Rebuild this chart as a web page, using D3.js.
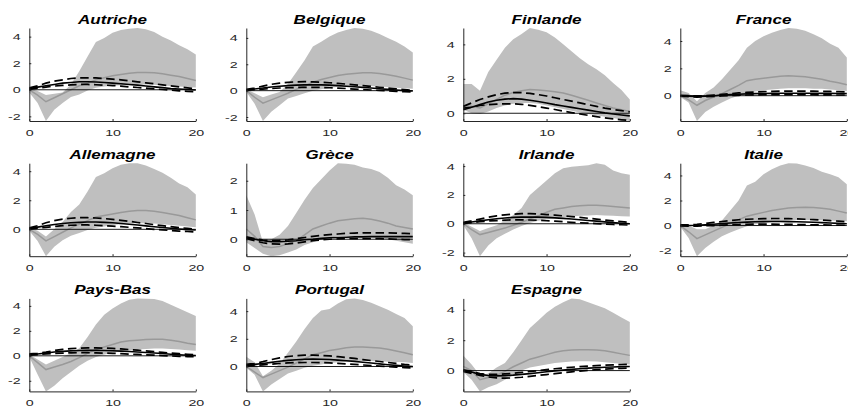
<!DOCTYPE html>
<html><head><meta charset="utf-8">
<script src="https://cdn.jsdelivr.net/npm/d3@7"></script>
<style>body{margin:0;background:#fff}svg{display:block}</style>
</head><body><svg id="c" width="848" height="408"></svg>
<script>
const countries = ["Autriche","Belgique","Finlande","France","Allemagne","Grèce","Irlande","Italie","Pays-Bas","Portugal","Espagne"];
const steps = [0,1,2,3,4,5,6,7,8,9,10,11,12,13,14,15,16,17,18,19,20];
const xTicks = [0,10,20];
const yTicks = [[-2,0,2,4],[-2,0,2,4],[0,2,4],[0,2,4],[0,2,4],[0,1,2],[-2,0,2,4],[-2,0,2,4],[-2,0,2,4],[0,2,4],[0,2,4]];

const bandHigh = [
 [0.1,-0.1,-0.4,-0.3,-0.2,0.4,1.4,2.5,3.6,3.9,4.3,4.5,4.6,4.65,4.55,4.35,4.0,3.7,3.35,3.05,2.65],
 [0.1,-0.2,-0.5,-0.3,-0.1,0.5,1.4,2.3,3.35,3.7,4.1,4.4,4.6,4.75,4.7,4.55,4.3,4.0,3.7,3.35,2.9],
 [1.7,1.7,1.3,2.4,3.1,3.8,4.3,4.6,4.95,4.85,4.7,4.4,4.0,3.6,3.2,2.85,2.55,2.2,1.75,1.35,0.8],
 [0.4,0.2,-0.4,0.2,0.6,1.2,1.9,2.6,3.5,4.0,4.35,4.6,4.8,4.95,4.9,4.75,4.5,4.2,3.8,3.5,2.8],
 [0.1,-0.1,-0.5,0.0,0.5,1.2,1.7,2.6,3.6,3.85,4.2,4.45,4.55,4.55,4.4,4.15,3.9,3.55,3.15,2.9,2.4],
 [1.5,0.85,-0.1,0.0,0.15,0.45,0.9,1.35,1.75,2.05,2.35,2.6,2.58,2.55,2.45,2.4,2.3,2.1,1.85,1.7,1.5],
 [0.1,-0.2,-0.5,-0.3,-0.1,0.2,0.6,1.1,2.0,2.5,3.0,3.5,3.85,3.95,4.0,4.05,4.2,4.1,3.7,3.5,3.4],
 [0.1,0.0,-0.3,-0.3,0.0,0.4,1.2,2.0,3.2,3.5,4.1,4.5,4.8,4.98,4.95,4.8,4.6,4.3,4.1,3.85,3.3],
 [0.1,-0.3,-0.7,-0.4,-0.1,0.2,0.6,1.5,2.5,3.3,3.8,4.2,4.5,4.6,4.58,4.55,4.4,4.1,3.8,3.5,3.2],
 [0.7,0.3,-0.7,-0.3,0.2,1.0,1.8,2.7,3.5,4.05,4.15,4.55,4.85,4.92,4.8,4.6,4.35,4.1,3.8,3.5,2.9],
 [1.0,0.4,-0.3,-0.2,0.2,0.5,1.2,2.0,2.8,3.3,3.8,4.2,4.5,4.75,4.7,4.5,4.3,4.1,3.8,3.5,3.2]
];
const bandLow = [
 [-0.2,-1.0,-2.35,-1.5,-1.0,-0.55,-0.35,-0.05,0.15,0.25,0.3,0.35,0.4,0.4,0.4,0.38,0.33,0.28,0.24,0.2,0.17],
 [-0.1,-1.0,-2.3,-1.6,-1.1,-0.6,-0.4,-0.2,0.0,0.1,0.2,0.3,0.35,0.38,0.38,0.36,0.32,0.28,0.22,0.18,0.15],
 [0.2,0.0,-0.05,0.1,0.3,0.45,0.55,0.6,0.6,0.55,0.45,0.35,0.25,0.15,0.05,-0.05,-0.12,-0.2,-0.28,-0.36,-0.45],
 [-0.1,-0.5,-1.85,-1.2,-0.8,-0.5,-0.2,0.0,0.2,0.3,0.4,0.45,0.5,0.55,0.55,0.55,0.5,0.5,0.45,0.4,0.35],
 [-0.1,-0.8,-1.85,-1.2,-0.75,-0.45,-0.25,-0.05,0.1,0.2,0.3,0.35,0.4,0.42,0.42,0.4,0.35,0.3,0.25,0.2,0.15],
 [-0.1,-0.3,-0.5,-0.58,-0.55,-0.45,-0.35,-0.2,-0.1,0.0,0.05,0.1,0.1,0.1,0.08,0.06,0.03,0.0,-0.05,-0.1,-0.15],
 [-0.1,-1.0,-2.25,-1.5,-1.0,-0.7,-0.4,-0.15,0.05,0.2,0.3,0.4,0.45,0.5,0.55,0.58,0.6,0.58,0.55,0.52,0.5],
 [-0.1,-1.0,-2.45,-1.8,-1.3,-0.85,-0.55,-0.3,-0.05,0.1,0.2,0.3,0.35,0.4,0.45,0.45,0.45,0.42,0.4,0.38,0.35],
 [-0.1,-1.5,-2.85,-2.4,-1.8,-1.3,-0.8,-0.4,-0.1,0.1,0.25,0.35,0.45,0.5,0.55,0.58,0.58,0.55,0.5,0.45,0.4],
 [-0.1,-0.6,-1.8,-1.3,-0.9,-0.5,-0.3,-0.1,0.05,0.15,0.25,0.3,0.35,0.4,0.4,0.4,0.38,0.35,0.32,0.3,0.25],
 [-0.1,-0.6,-1.37,-1.1,-0.9,-0.6,-0.3,0.0,0.2,0.3,0.4,0.5,0.55,0.6,0.62,0.62,0.6,0.55,0.5,0.45,0.4]
];
const medianIRF = [
 [0,-0.4,-0.9,-0.6,-0.3,0.0,0.3,0.5,0.75,0.9,1.05,1.15,1.25,1.3,1.3,1.28,1.2,1.1,1.0,0.85,0.7],
 [0,-0.5,-0.95,-0.7,-0.45,-0.2,0.1,0.35,0.65,0.85,1.0,1.15,1.25,1.3,1.35,1.35,1.3,1.2,1.1,0.95,0.8],
 [0.4,0.4,0.3,0.55,0.8,1.05,1.2,1.3,1.38,1.35,1.3,1.25,1.18,1.05,0.9,0.75,0.6,0.45,0.3,0.2,0.1],
 [0,-0.3,-0.7,-0.35,-0.1,0.15,0.45,0.75,1.1,1.2,1.28,1.35,1.42,1.45,1.43,1.38,1.3,1.2,1.05,0.95,0.8],
 [0,-0.35,-0.8,-0.5,-0.2,0.1,0.35,0.6,0.85,0.95,1.05,1.15,1.25,1.3,1.3,1.25,1.15,1.05,0.95,0.8,0.65],
 [0.35,0.1,-0.25,-0.28,-0.25,-0.15,-0.05,0.15,0.35,0.45,0.55,0.63,0.67,0.7,0.72,0.68,0.62,0.55,0.45,0.4,0.35],
 [0,-0.4,-0.75,-0.6,-0.45,-0.3,-0.1,0.1,0.35,0.55,0.8,1.0,1.1,1.2,1.25,1.28,1.28,1.25,1.2,1.15,1.1],
 [0,-0.5,-1.05,-0.75,-0.45,-0.15,0.15,0.45,0.75,0.9,1.05,1.2,1.3,1.4,1.45,1.47,1.45,1.38,1.3,1.15,1.0],
 [0,-0.55,-1.1,-0.9,-0.7,-0.45,-0.15,0.2,0.5,0.7,0.9,1.1,1.2,1.25,1.3,1.32,1.32,1.25,1.15,1.0,0.9],
 [0,-0.4,-0.8,-0.55,-0.3,-0.05,0.25,0.55,0.85,1.0,1.15,1.25,1.35,1.4,1.4,1.38,1.33,1.25,1.12,1.0,0.85],
 [0.28,0.0,-0.6,-0.45,-0.3,-0.05,0.25,0.5,0.75,0.9,1.05,1.2,1.3,1.35,1.37,1.37,1.35,1.3,1.2,1.1,1.0]
];
const pointIRF = [
 [0.1,0.2,0.3,0.4,0.5,0.55,0.6,0.6,0.58,0.55,0.5,0.45,0.4,0.35,0.28,0.22,0.16,0.1,0.06,0.02,-0.02],
 [0.05,0.12,0.2,0.28,0.34,0.38,0.42,0.44,0.45,0.44,0.42,0.38,0.34,0.3,0.25,0.2,0.15,0.1,0.05,0.0,-0.03],
 [0.2,0.35,0.5,0.65,0.75,0.82,0.85,0.82,0.75,0.68,0.6,0.5,0.42,0.34,0.26,0.18,0.1,0.02,-0.04,-0.1,-0.15],
 [0,-0.03,-0.05,-0.04,0.0,0.04,0.08,0.11,0.13,0.15,0.16,0.17,0.18,0.18,0.18,0.18,0.18,0.17,0.17,0.16,0.15],
 [0.05,0.15,0.25,0.33,0.4,0.45,0.48,0.5,0.5,0.48,0.45,0.4,0.35,0.3,0.24,0.18,0.12,0.07,0.02,-0.02,-0.05],
 [0.05,0.0,-0.05,-0.08,-0.08,-0.07,-0.05,-0.02,0.0,0.03,0.05,0.06,0.07,0.08,0.08,0.09,0.09,0.09,0.09,0.09,0.09],
 [0.05,0.12,0.2,0.28,0.35,0.4,0.44,0.46,0.47,0.46,0.44,0.41,0.37,0.33,0.28,0.23,0.18,0.13,0.08,0.04,0.0],
 [0,0.0,0.02,0.06,0.1,0.15,0.2,0.24,0.27,0.3,0.31,0.32,0.32,0.31,0.3,0.28,0.26,0.23,0.2,0.17,0.14],
 [0.1,0.15,0.22,0.3,0.36,0.4,0.43,0.44,0.44,0.43,0.41,0.38,0.35,0.31,0.27,0.22,0.18,0.13,0.09,0.05,0.02],
 [0.1,0.15,0.22,0.3,0.38,0.44,0.49,0.52,0.53,0.52,0.5,0.46,0.42,0.37,0.31,0.25,0.19,0.13,0.08,0.03,-0.01],
 [0.0,-0.1,-0.25,-0.32,-0.35,-0.33,-0.3,-0.25,-0.2,-0.14,-0.08,-0.02,0.03,0.08,0.12,0.16,0.19,0.22,0.24,0.26,0.27]
];
const pointHigh = [
 [0.15,0.3,0.5,0.65,0.75,0.85,0.9,0.9,0.9,0.85,0.8,0.75,0.68,0.6,0.52,0.45,0.37,0.3,0.22,0.15,0.08],
 [0.1,0.2,0.35,0.48,0.57,0.63,0.67,0.68,0.67,0.64,0.6,0.55,0.5,0.44,0.38,0.32,0.26,0.2,0.14,0.08,0.03],
 [0.4,0.6,0.8,0.95,1.08,1.17,1.2,1.2,1.15,1.08,1.0,0.9,0.8,0.7,0.6,0.5,0.4,0.3,0.22,0.15,0.08],
 [0.02,0.0,-0.02,0.0,0.05,0.1,0.15,0.2,0.24,0.27,0.3,0.32,0.33,0.34,0.34,0.34,0.33,0.32,0.31,0.3,0.28],
 [0.1,0.25,0.45,0.6,0.7,0.76,0.8,0.8,0.78,0.74,0.68,0.62,0.55,0.47,0.4,0.32,0.25,0.18,0.12,0.06,0.0],
 [0.08,0.02,-0.03,-0.05,-0.04,-0.02,0.02,0.06,0.1,0.13,0.16,0.18,0.2,0.21,0.22,0.22,0.22,0.22,0.21,0.2,0.19],
 [0.1,0.2,0.32,0.45,0.55,0.62,0.67,0.7,0.7,0.68,0.64,0.6,0.55,0.5,0.44,0.38,0.32,0.26,0.2,0.15,0.1],
 [0.05,0.05,0.1,0.17,0.25,0.32,0.4,0.46,0.5,0.53,0.55,0.56,0.56,0.55,0.53,0.5,0.47,0.43,0.39,0.35,0.3],
 [0.15,0.2,0.3,0.42,0.52,0.58,0.62,0.64,0.64,0.62,0.59,0.55,0.5,0.45,0.4,0.34,0.28,0.22,0.17,0.12,0.08],
 [0.15,0.22,0.35,0.5,0.62,0.72,0.78,0.82,0.82,0.8,0.76,0.71,0.65,0.58,0.5,0.43,0.36,0.29,0.22,0.15,0.1],
 [0.05,-0.05,-0.2,-0.25,-0.25,-0.22,-0.18,-0.12,-0.06,0.0,0.06,0.12,0.17,0.22,0.26,0.3,0.33,0.36,0.38,0.4,0.42]
];
const pointLow = [
 [0.05,0.12,0.2,0.28,0.33,0.37,0.4,0.4,0.38,0.35,0.32,0.28,0.22,0.17,0.12,0.07,0.02,-0.03,-0.08,-0.12,-0.15],
 [0.03,0.08,0.12,0.16,0.2,0.22,0.24,0.25,0.25,0.24,0.22,0.19,0.16,0.12,0.09,0.05,0.02,-0.02,-0.05,-0.08,-0.1],
 [0.3,0.35,0.45,0.5,0.53,0.55,0.55,0.52,0.46,0.38,0.3,0.22,0.12,0.04,-0.04,-0.12,-0.2,-0.27,-0.33,-0.38,-0.42],
 [-0.03,-0.07,-0.1,-0.08,-0.05,-0.02,0.01,0.03,0.05,0.06,0.07,0.07,0.07,0.07,0.07,0.07,0.07,0.06,0.06,0.05,0.05],
 [0.02,0.08,0.14,0.2,0.25,0.28,0.3,0.3,0.28,0.25,0.22,0.18,0.14,0.1,0.05,0.0,-0.04,-0.08,-0.12,-0.15,-0.18],
 [0.02,-0.05,-0.12,-0.16,-0.17,-0.16,-0.13,-0.09,-0.05,-0.02,0.0,0.01,0.02,0.02,0.02,0.02,0.02,0.01,0.0,-0.01,-0.02],
 [0.02,0.08,0.14,0.19,0.22,0.25,0.27,0.27,0.26,0.24,0.21,0.18,0.14,0.1,0.07,0.04,0.01,-0.02,-0.05,-0.07,-0.09],
 [-0.03,-0.05,-0.05,-0.02,0.0,0.03,0.06,0.08,0.1,0.11,0.11,0.11,0.1,0.09,0.08,0.07,0.06,0.05,0.04,0.03,0.02],
 [0.05,0.1,0.15,0.19,0.22,0.24,0.25,0.25,0.24,0.22,0.2,0.17,0.14,0.11,0.08,0.05,0.02,-0.01,-0.04,-0.06,-0.08],
 [0.05,0.08,0.12,0.17,0.22,0.26,0.28,0.29,0.29,0.28,0.26,0.23,0.19,0.15,0.11,0.07,0.03,-0.01,-0.05,-0.08,-0.11],
 [-0.05,-0.18,-0.32,-0.42,-0.48,-0.5,-0.48,-0.44,-0.38,-0.32,-0.26,-0.2,-0.14,-0.08,-0.03,0.02,0.06,0.1,0.13,0.15,0.17]
];

// layout
const left0 = 29.3, colStep = 217.0, plotW = 166.5;
const top0 = 28, rowStep = 135.2, plotH = 93;
const textStretch = 1.5, titleStretch = 1.42;
const axisColor = "#262626";

const svg = d3.select("#c");

countries.forEach((name, i) => {
  const col = i % 4, row = Math.floor(i / 4);
  const g = svg.append("g").attr("transform", `translate(${left0 + col*colStep},${top0 + row*rowStep})`);
  const all = [].concat(bandHigh[i], bandLow[i], medianIRF[i], pointIRF[i], pointHigh[i], pointLow[i]);
  const x = d3.scaleLinear().domain(d3.extent(steps)).range([0, plotW]);
  const y = d3.scaleLinear().domain(d3.extent(all)).range([plotH, 0]);

  const area = d3.area().x((d, k) => x(steps[k])).y0((d, k) => y(bandLow[i][k])).y1((d, k) => y(bandHigh[i][k]));
  g.append("path").attr("d", area(steps)).attr("fill", "#bfbfbf").attr("stroke", "none");

  const line = arr => d3.line().x((d, k) => x(steps[k])).y((d, k) => y(arr[k]))(steps);
  g.append("path").attr("d", line(medianIRF[i])).attr("fill", "none").attr("stroke", "#999999").attr("stroke-width", 1.5);

  g.append("line").attr("x1", x(steps[0])).attr("x2", x(steps[steps.length-1]))
    .attr("y1", y(0)).attr("y2", y(0)).attr("stroke", "#000").attr("stroke-width", 0.9);

  g.append("path").attr("d", line(pointIRF[i])).attr("fill", "none").attr("stroke", "#000").attr("stroke-width", 1.6);
  [pointHigh[i], pointLow[i]].forEach(arr => {
    g.append("path").attr("d", line(arr)).attr("fill", "none").attr("stroke", "#000")
      .attr("stroke-width", 1.7).attr("stroke-dasharray", "8.5,4.5");
  });

  // axes
  const ya = g.append("g").call(d3.axisLeft(y).tickValues(yTicks[i]).tickSize(-2).tickSizeOuter(0).tickPadding(8.6/textStretch).tickFormat(d3.format("d")));
  const xa = g.append("g").attr("transform", `translate(0,${plotH})`)
    .call(d3.axisBottom(x).tickValues(xTicks).tickSize(-2).tickSizeOuter(0).tickPadding(8.3).tickFormat(d3.format("d")));
  [ya, xa].forEach(a => {
    a.select(".domain").attr("stroke", axisColor).attr("stroke-width", 1);
    a.selectAll(".tick line").attr("stroke", axisColor).attr("stroke-width", 1);
    a.selectAll(".tick text").attr("fill", axisColor).attr("font-family", "'Liberation Sans', Arial, Helvetica, sans-serif")
      .attr("font-size", 9.5).attr("transform", `scale(${textStretch},1)`);
  });
  ya.selectAll(".tick text").text(d => d < 0 ? "-" + Math.abs(d) : d);

  g.append("text").attr("transform", `translate(${plotW/2},-4) scale(${titleStretch},1)`)
    .attr("text-anchor", "middle").attr("font-family", "'Liberation Sans', Arial, Helvetica, sans-serif")
    .attr("font-weight", "bold").attr("font-style", "italic").attr("font-size", 12).attr("fill", "#000")
    .text(name);
});
</script></body></html>
